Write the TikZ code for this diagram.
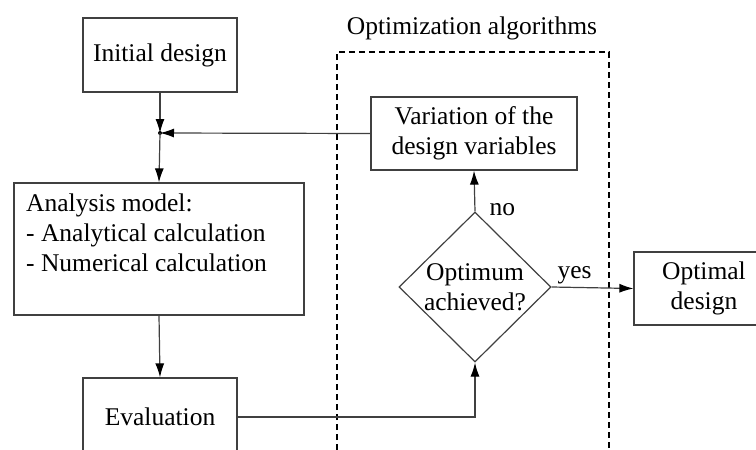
\documentclass[tikz,border=0pt]{standalone}
\usepackage{fontspec}
\setmainfont{Liberation Serif}
\usetikzlibrary{arrows.meta,shapes.geometric}

\tikzset{
  box/.style={draw=black!75, line width=1.2pt, minimum width=#1, inner sep=0pt, align=center},
  label text/.style={inner sep=0pt, align=center},
  flow/.style={draw=black!75, line width=1.2pt, -{Latex[length=14pt,width=9pt,black]}},
  group/.style={line width=2.2pt, dash pattern=on 6pt off 4pt},
  decision/.style={draw=black!75, line width=1.2pt, diamond, aspect=1, minimum width=152pt, minimum height=150pt, inner sep=0pt, align=center}
}

\begin{document}
\begin{tikzpicture}[x=1pt, y=-1pt, font=\fontsize{25.5}{30}\selectfont]
  \useasboundingbox (0,0) rectangle (756,450);
  \clip (0,0) rectangle (756,450);

  % dashed frame of the optimization part
  \draw[group] (337,470) -- (337,52) -- (609,52) -- (609,470);
  \node[label text] (opttitle) at (472,28) {Optimization algorithms};

  % main chain on the left
  \node[box=154pt, minimum height=74pt] (init) at (160,55) {Initial design};
  \coordinate (join) at (160,133);
  \node[box=290pt, minimum height=132pt] (ana) at (159,249) {};
  \node[inner sep=0pt, anchor=west, align=left] (anatext) at (26,233)
    {Analysis model:\\- Analytical calculation\\- Numerical calculation};
  \node[box=154pt, minimum height=78pt] (eval) at (160,417) {Evaluation};

  % optimization loop
  \node[box=206pt, minimum height=73pt] (vary) at (474,133.5) {Variation of the\\design variables};
  \node[decision] (check) at (475,287) {Optimum\\achieved?};
  \node[box=140pt, minimum height=73pt] (final) at (704,288.5) {Optimal\\design};

  % connectors
  \draw[flow] (init.south) -- (join);
  \draw[flow] (vary.west) -- (join);
  \fill (join) circle (2pt);
  \draw[flow] (join) -- (ana.north);
  \draw[flow] (ana.south) -- (eval.north);
  \draw[flow] (eval.east) -| (check.south);
  \draw[flow] (check.north) -- node[right, pos=0.05, xshift=14pt, label text] (nolbl) {no} (vary.south);
  \draw[flow] (check.east) -- node[above, pos=0.28, yshift=3pt, label text] (yeslbl) {yes} (final.west);
\end{tikzpicture}
\end{document}
